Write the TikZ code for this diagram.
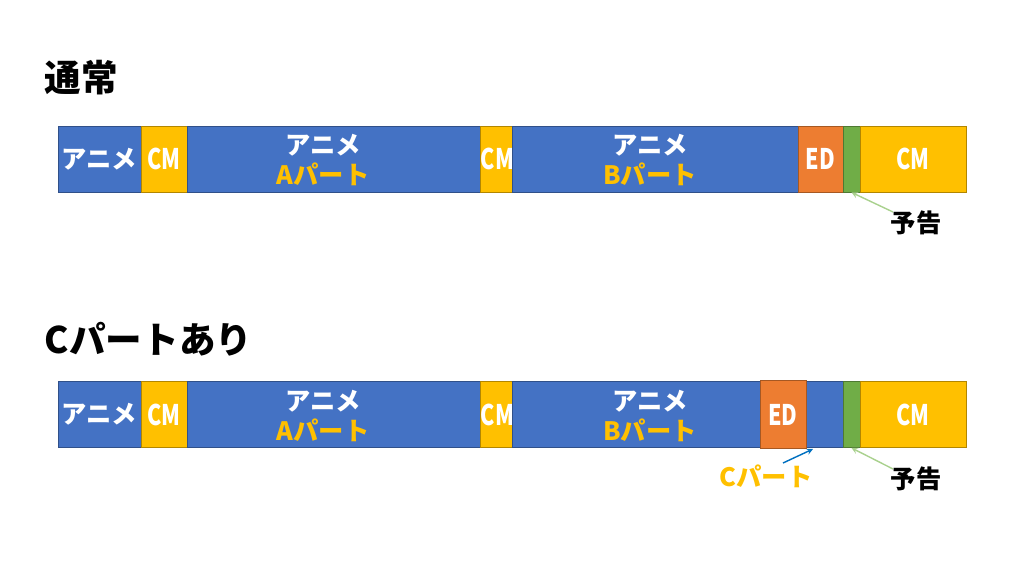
\documentclass[tikz,border=0pt]{standalone}
\usepackage{fontspec}
\setmainfont{Noto Sans CJK JP}
\definecolor{anime}{HTML}{4472C4}
\definecolor{cmy}{HTML}{FFC000}
\definecolor{ed}{HTML}{ED7D31}
\definecolor{yokoku}{HTML}{70AD47}
\definecolor{lgreen}{HTML}{A9D18E}
\definecolor{cblue}{HTML}{0070C0}
\begin{document}
\begin{tikzpicture}[x=0.025cm,y=-0.025cm,>=stealth,
    sg/.style={shape=rectangle,inner sep=0pt,draw=#1!70!black,fill=#1,line width=0.6pt,
      minimum height=1.65cm,text=white,font=\fontsize{18}{22}\selectfont\bfseries},
    tt/.style={font=\fontsize{26}{30}\selectfont\bfseries,anchor=west},
    lb/.style={font=\fontsize{18}{22}\selectfont\bfseries,align=center,text=white},
    ar/.style={->,draw=#1,line width=1pt}]
    \useasboundingbox (0,0) rectangle (1024,576);

    % 通常
    \node[tt] (t1) at (40,78) {通常};
    \node[sg=anime,minimum width=2.075cm] (1) at (99.5,159) {アニメ};
    \node[sg=cmy,minimum width=1.15cm] (2) at (164,159) {\scalebox{0.85}[1.12]{CM}};
    \node[sg=anime,minimum width=7.4cm] (3) at (335,159) {};
    \node[sg=cmy,minimum width=0.725cm] (4) at (497.5,159) {\scalebox{0.85}[1.12]{CM}};
    \node[sg=anime,minimum width=7.15cm] (5) at (655,159) {};
    \node[sg=ed,minimum width=1.125cm] (6) at (820.5,159) {\scalebox{0.85}[1.12]{ED}};
    \node[sg=yokoku,minimum width=0.425cm] (7) at (851.5,159) {};
    \node[sg=cmy,minimum width=2.65cm] (8) at (913,159) {\scalebox{0.85}[1.12]{CM}};
    \node[lb] (9) at (323,160) {アニメ\\\textcolor{cmy}{Aパート}};
    \node[lb] (10) at (650,160) {アニメ\\\textcolor{cmy}{Bパート}};
    \node[lb,text=black] (11) at (916,223) {予告};
    \coordinate (c11) at (893,212);

    % Cパートあり
    \node[tt] (t2) at (40,339) {Cパートあり};
    \node[sg=anime,minimum width=2.075cm] (12) at (99.5,414.5) {アニメ};
    \node[sg=cmy,minimum width=1.15cm] (13) at (164,414.5) {\scalebox{0.85}[1.12]{CM}};
    \node[sg=anime,minimum width=7.4cm] (14) at (335,414.5) {};
    \node[sg=cmy,minimum width=0.725cm] (15) at (497.5,414.5) {\scalebox{0.85}[1.12]{CM}};
    \node[sg=anime,minimum width=8.275cm] (16) at (677.5,414.5) {};
    \node[sg=ed,minimum width=1.15cm,minimum height=1.7cm] (17) at (783,414.5) {\scalebox{0.85}[1.12]{ED}};
    \node[sg=yokoku,minimum width=0.425cm] (18) at (851.5,414.5) {};
    \node[sg=cmy,minimum width=2.65cm] (19) at (913,414.5) {\scalebox{0.85}[1.12]{CM}};
    \node[lb] (20) at (323,416) {アニメ\\\textcolor{cmy}{Aパート}};
    \node[lb] (21) at (650,416) {アニメ\\\textcolor{cmy}{Bパート}};
    \node[lb,text=black] (22) at (916,479) {予告};
    \node[lb,text=cmy] (23) at (766,476) {Cパート};
    \coordinate (c22) at (893,469);
    \coordinate (c23) at (783,463);
    \coordinate (c16) at (813,449);

    \path (c11) edge[ar=lgreen] (7.south);
    \path (c22) edge[ar=lgreen] (18.south);
    \path (c23) edge[ar=cblue] (c16);

  \end{tikzpicture}
\end{document}
